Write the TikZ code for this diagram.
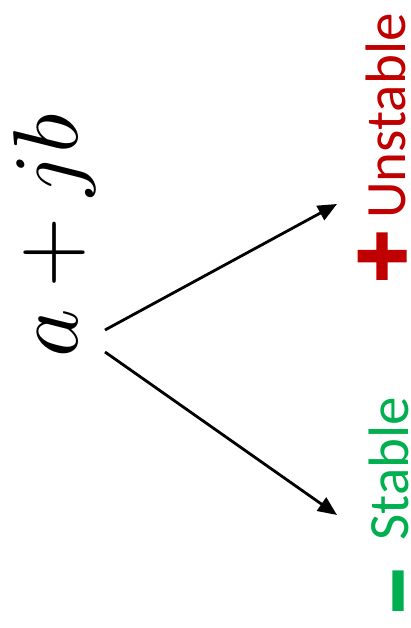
\documentclass[tikz,border=0pt]{standalone}
\usepackage{fontspec}
\setsansfont{Carlito}
\newfontfamily\signfont[FakeBold=2.5]{Carlito Bold}
\usetikzlibrary{arrows.meta}
\definecolor{unstred}{RGB}{192,0,0}
\definecolor{stabgreen}{RGB}{0,176,80}

\begin{document}
\begin{tikzpicture}[x=1pt, y=1pt,
  lbl/.style={rotate=90, anchor=base, inner sep=0pt, font=\sffamily\fontsize{57}{60}\selectfont},
  arr/.style={-{Triangle[length=19pt, width=16pt]}, line width=2.8pt}
]
  \useasboundingbox (0,0) rectangle (411,628);
  \node[rotate=90, anchor=base, inner sep=0pt] (root) at (77,392) {\scalebox{9.2}{$a+jb$}};
  \node[lbl, text=unstred] (unst) at (405,481) {\raisebox{-8pt}{\signfont\fontsize{98}{98}\selectfont +}\ Unstable};
  \node[lbl, text=stabgreen] (stab) at (408,122) {\raisebox{-21pt}{\signfont\fontsize{98}{98}\selectfont −}\ \ Stable};
  % arrow ends
  \coordinate (up0) at (105,298);
  \coordinate (up1) at (337,424);
  \coordinate (dn0) at (105,276);
  \coordinate (dn1) at (337,113);
  \draw[arr] (up0) -- (up1);
  \draw[arr] (dn0) -- (dn1);
\end{tikzpicture}
\end{document}
